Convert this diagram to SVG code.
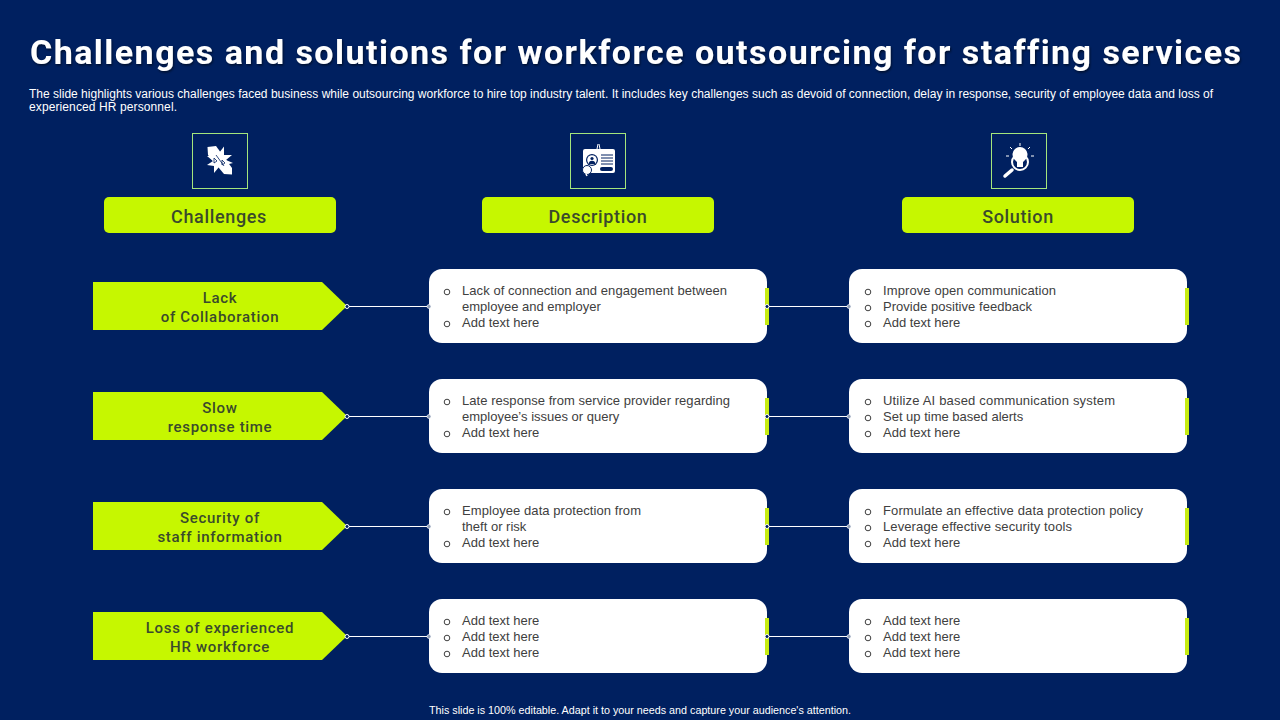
<svg xmlns="http://www.w3.org/2000/svg" width="1280" height="720" viewBox="0 0 1280 720">
<style>
text{font-family:"Liberation Sans",Arial,sans-serif;font-variant-ligatures:none}
.t{font-family:Roboto,"Liberation Sans",sans-serif;font-weight:700;font-size:34px;fill:#fff}
.s{font-size:12px;fill:#fff}
.h{font-family:Roboto,sans-serif;font-weight:500;font-size:18px;letter-spacing:.65px;fill:#3a4a2c;text-anchor:middle}
.a{font-family:Roboto,sans-serif;font-weight:500;font-size:15px;letter-spacing:.7px;fill:#3a4a2c;text-anchor:middle}
.b{font-size:13px;fill:#404040}
.hd{fill:#c6f700}
.ib{fill:none;stroke:#a4e67c;stroke-width:1}
.card{fill:#fff}
.bar{fill:#c6ec12}
.o{fill:none;stroke:#404040;stroke-width:1}
.ln{stroke:#fff;stroke-width:1;fill:none}
.d1{fill:#002060;stroke:#fff;stroke-width:1}
.d2{fill:#8d9bb5;stroke:#fff;stroke-width:.6}
.w{fill:#fff}
.wl{fill:none;stroke:#fff;stroke-width:1.5}
.nl{fill:none;stroke:#002060;stroke-width:1}
</style>
<defs>
<filter id="sh" x="-2%" y="-20%" width="104%" height="140%"><feDropShadow dx="1" dy="1.500" stdDeviation="0.800" flood-color="#000" flood-opacity="0.55"/></filter>
<polygon id="arrow" points="0,0 229,0 254,24 229,48 0,48"/>
<circle id="bul" cx="447" cy="0" r="2.800" class="o"/>
</defs>
<rect width="1280" height="720" fill="#002060"/>
<g id="title">
<text class="t" x="30" y="63.500" textLength="1211" filter="url(#sh)">Challenges and solutions for workforce outsourcing for staffing services</text>
<text class="s" x="29" y="98" textLength="1184" lengthAdjust="spacing">The slide highlights various challenges faced business while outsourcing workforce to hire top industry talent. It includes key challenges such as devoid of connection, delay in response, security of employee data and loss of</text>
<text class="s" x="29" y="111" textLength="148">experienced HR personnel.</text>
</g>
<g id="connectors">
<path class="ln" d="M347 306.500H429M767 306.500H849M347 416.500H429M767 416.500H849M347 526.500H429M767 526.500H849M347 636.500H429M767 636.500H849"/>
</g>
<g id="icon-challenges">
<rect class="ib" x="192.500" y="133.500" width="55" height="55"/>
<path class="w" d="M207.500 147L216 146L232 168L232 174.500L224 174L208 155Z"/>
<path class="w" d="M224 146.500L224 155L232 155L226 160L233 163L225 165L224 172L219 167L214 173L214 166L207 165L213 161L207 156L214 156L215 150L219 153Z"/>
<path class="nl" style="stroke-width:.8" d="M214 158l3 3-3 2zM222 160l3 3-3 2zM216 155l8 11"/>
</g>
<g id="icon-description">
<rect class="ib" x="570.500" y="133.500" width="55" height="55"/>
<rect class="w" x="583" y="149" width="32" height="24" rx="2"/>
<path class="wl" style="stroke-width:1" d="M597 149l1-5M600 149l-1-5"/>
<circle cx="592" cy="160" r="6" fill="#002060"/><circle cx="592" cy="160" r="4.800" class="w"/>
<circle cx="592" cy="158.500" r="1.600" fill="#002060"/><path d="M588.800 164a3.200 3.200 0 0 1 6.400 0z" fill="#002060"/>
<path class="nl" d="M601 155h12M601 158h12M601 161h12M601 164h12"/>
<rect x="600" y="167" width="13" height="4" rx="2" fill="#002060"/>
<circle cx="587" cy="170" r="4.500" class="w" stroke="#002060"/>
<path class="wl" d="M586 174l1 2"/>
</g>
<g id="icon-solution">
<rect class="ib" x="991.500" y="133.500" width="55" height="55"/>
<path class="w" d="M1014 159a7.500 7.500 0 1 1 12 0l-3 3v5h-6v-5z"/>
<circle cx="1020" cy="162" r="8" fill="none" stroke="#fff" stroke-width="2"/>
<path class="wl" stroke-linecap="round" style="stroke-width:3.500" d="M1012 170l-7 6"/>
<path class="wl" style="stroke-width:1" d="M1020 146v-3M1012 149l-2-2M1028 149l2-2M1009 156h-3M1031 156h3"/>
</g>
<g id="head-challenges"><rect class="hd" x="104" y="197" width="232" height="36" rx="5"/><text class="h" x="219" y="223">Challenges</text></g>
<g id="head-description"><rect class="hd" x="482" y="197" width="232" height="36" rx="5"/><text class="h" x="598" y="223">Description</text></g>
<g id="head-solution"><rect class="hd" x="902" y="197" width="232" height="36" rx="5"/><text class="h" x="1018" y="223">Solution</text></g>

<g id="c1"><use href="#arrow" x="93" y="282" class="hd"/><text class="a" x="220" y="303">Lack</text><text class="a" x="220" y="322">of Collaboration</text></g>
<g id="c2"><use href="#arrow" x="93" y="392" class="hd"/><text class="a" x="220" y="413">Slow</text><text class="a" x="220" y="432">response time</text></g>
<g id="c3"><use href="#arrow" x="93" y="502" class="hd"/><text class="a" x="220" y="523">Security of</text><text class="a" x="220" y="542">staff information</text></g>
<g id="c4"><use href="#arrow" x="93" y="612" class="hd"/><text class="a" x="220" y="633">Loss of experienced</text><text class="a" x="220" y="652">HR workforce</text></g>

<g id="d1"><rect class="card" x="429" y="269" width="338" height="74" rx="13"/><rect class="bar" x="765" y="288" width="4" height="37"/>
<use href="#bul" y="292"/><use href="#bul" y="324"/>
<text class="b" x="462" y="295" textLength="265">Lack of connection and engagement between</text><text class="b" x="462" y="311">employee and employer</text><text class="b" x="462" y="327">Add text here</text></g>
<g id="d2"><rect class="card" x="429" y="379" width="338" height="74" rx="13"/><rect class="bar" x="765" y="398" width="4" height="37"/>
<use href="#bul" y="402"/><use href="#bul" y="434"/>
<text class="b" x="462" y="405" textLength="268">Late response from service provider regarding</text><text class="b" x="462" y="421">employee’s issues or query</text><text class="b" x="462" y="437">Add text here</text></g>
<g id="d3"><rect class="card" x="429" y="489" width="338" height="74" rx="13"/><rect class="bar" x="765" y="508" width="4" height="37"/>
<use href="#bul" y="512"/><use href="#bul" y="544"/>
<text class="b" x="462" y="515" textLength="179">Employee data protection from</text><text class="b" x="462" y="531">theft or risk</text><text class="b" x="462" y="547">Add text here</text></g>
<g id="d4"><rect class="card" x="429" y="599" width="338" height="74" rx="13"/><rect class="bar" x="765" y="618" width="4" height="37"/>
<use href="#bul" y="622"/><use href="#bul" y="638"/><use href="#bul" y="654"/>
<text class="b" x="462" y="625">Add text here</text><text class="b" x="462" y="641">Add text here</text><text class="b" x="462" y="657">Add text here</text></g>

<g id="s1"><rect class="card" x="849" y="269" width="338" height="74" rx="13"/><rect class="bar" x="1185" y="288" width="4" height="37"/>
<use href="#bul" x="421" y="292"/><use href="#bul" x="421" y="308"/><use href="#bul" x="421" y="324"/>
<text class="b" x="883" y="295" textLength="173">Improve open communication</text><text class="b" x="883" y="311" textLength="149">Provide positive feedback</text><text class="b" x="883" y="327">Add text here</text></g>
<g id="s2"><rect class="card" x="849" y="379" width="338" height="74" rx="13"/><rect class="bar" x="1185" y="398" width="4" height="37"/>
<use href="#bul" x="421" y="402"/><use href="#bul" x="421" y="418"/><use href="#bul" x="421" y="434"/>
<text class="b" x="883" y="405" textLength="232">Utilize AI based communication system</text><text class="b" x="883" y="421">Set up time based alerts</text><text class="b" x="883" y="437">Add text here</text></g>
<g id="s3"><rect class="card" x="849" y="489" width="338" height="74" rx="13"/><rect class="bar" x="1185" y="508" width="4" height="37"/>
<use href="#bul" x="421" y="512"/><use href="#bul" x="421" y="528"/><use href="#bul" x="421" y="544"/>
<text class="b" x="883" y="515" textLength="260">Formulate an effective data protection policy</text><text class="b" x="883" y="531" textLength="189">Leverage effective security tools</text><text class="b" x="883" y="547">Add text here</text></g>
<g id="s4"><rect class="card" x="849" y="599" width="338" height="74" rx="13"/><rect class="bar" x="1185" y="618" width="4" height="37"/>
<use href="#bul" x="421" y="622"/><use href="#bul" x="421" y="638"/><use href="#bul" x="421" y="654"/>
<text class="b" x="883" y="625">Add text here</text><text class="b" x="883" y="641">Add text here</text><text class="b" x="883" y="657">Add text here</text></g>

<g id="dots">
<circle class="d1" cx="347" cy="306.500" r="2"/><circle class="d2" cx="429" cy="306.500" r="2"/><circle class="d1" cx="767" cy="306.500" r="2"/><circle class="d2" cx="849" cy="306.500" r="2"/>
<circle class="d1" cx="347" cy="416.500" r="2"/><circle class="d2" cx="429" cy="416.500" r="2"/><circle class="d1" cx="767" cy="416.500" r="2"/><circle class="d2" cx="849" cy="416.500" r="2"/>
<circle class="d1" cx="347" cy="526.500" r="2"/><circle class="d2" cx="429" cy="526.500" r="2"/><circle class="d1" cx="767" cy="526.500" r="2"/><circle class="d2" cx="849" cy="526.500" r="2"/>
<circle class="d1" cx="347" cy="636.500" r="2"/><circle class="d2" cx="429" cy="636.500" r="2"/><circle class="d1" cx="767" cy="636.500" r="2"/><circle class="d2" cx="849" cy="636.500" r="2"/>
</g>
<text id="footer" x="429" y="714" textLength="422" style="font-size:10.750px;fill:#fff">This slide is 100% editable.  Adapt it to your needs and capture your audience's attention.</text>
</svg>
